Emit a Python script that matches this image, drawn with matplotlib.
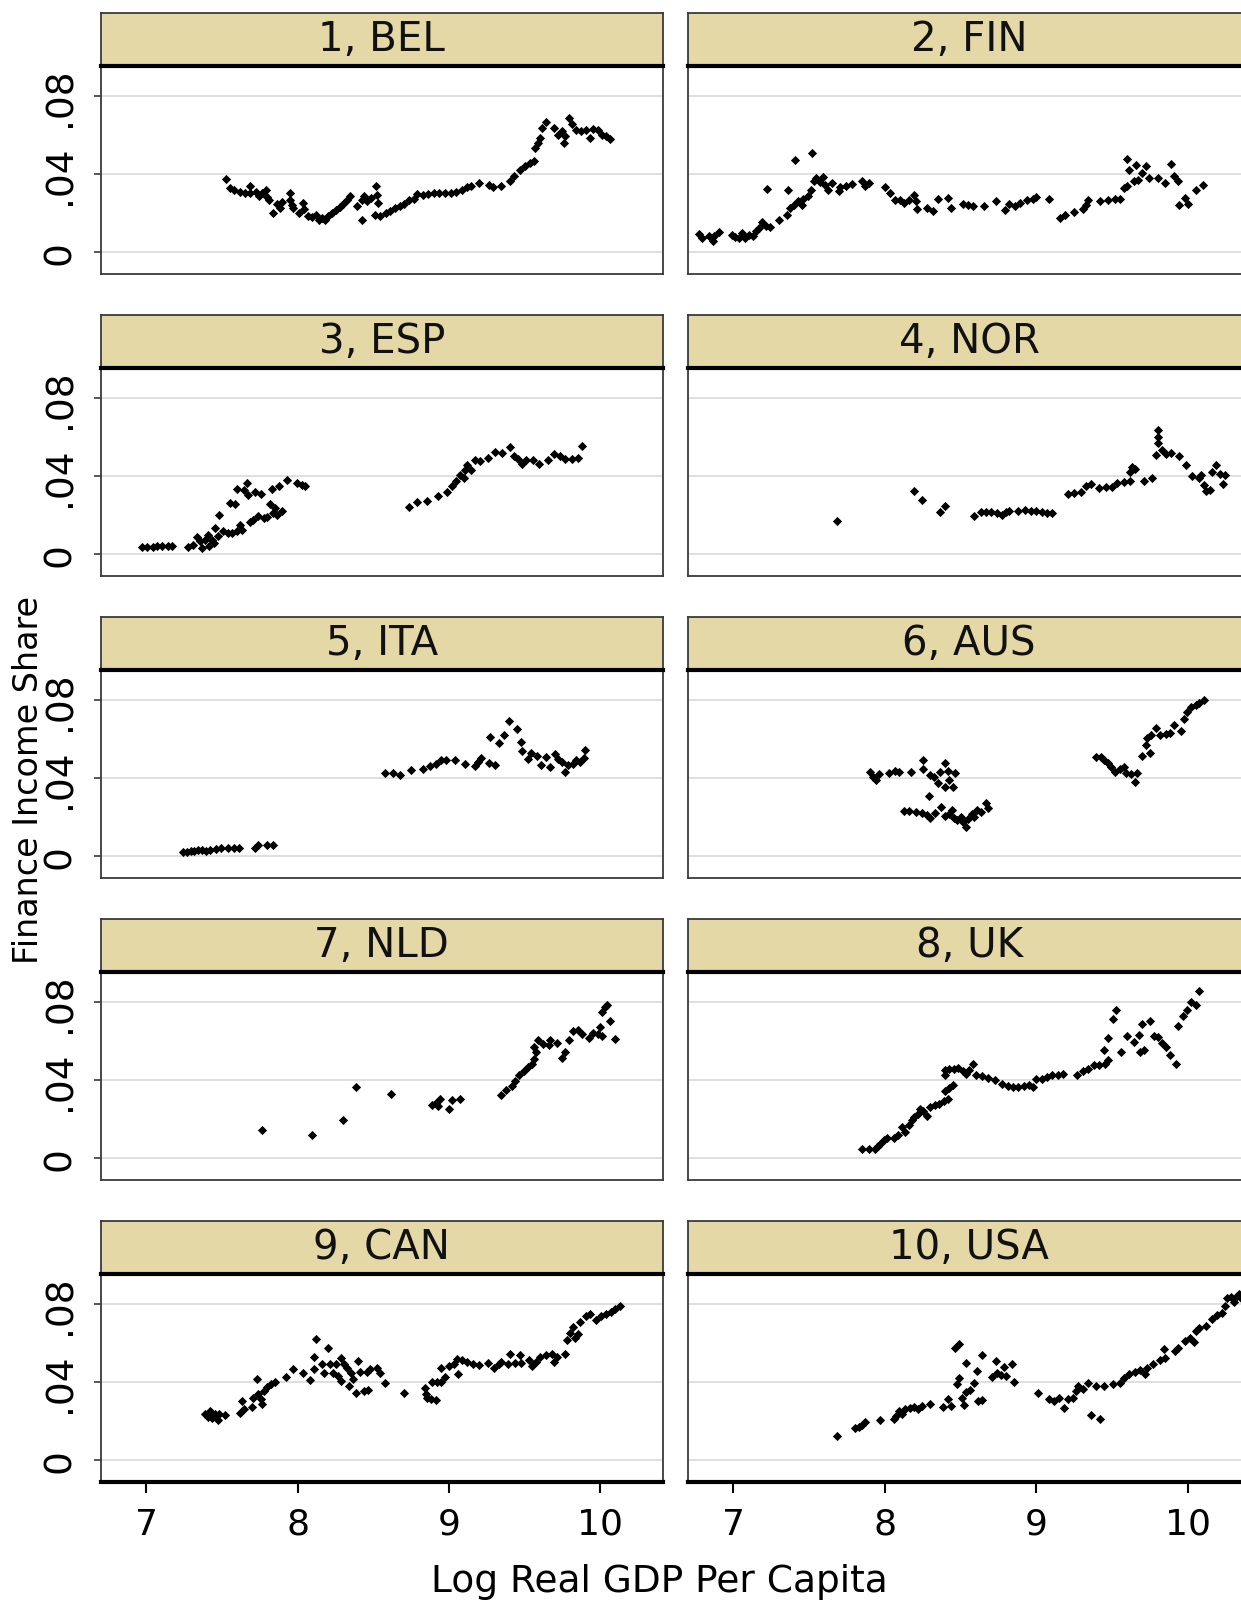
import matplotlib
matplotlib.use("Agg")
import matplotlib.pyplot as plt

# finance income share vs log real GDP per capita, by country
bel_x = [7.525, 7.552, 7.577, 7.618, 7.650, 7.687, 7.684, 7.728, 7.748, 7.765, 7.789, 7.796, 7.814, 7.838,
         7.862, 7.887, 7.899, 7.948, 7.948, 7.960, 7.972, 8.009, 8.033, 8.041, 8.070, 8.095, 8.124, 8.143,
         8.163, 8.180, 8.204, 8.229, 8.253, 8.278, 8.302, 8.327, 8.344, 8.393, 8.424, 8.424, 8.441, 8.461,
         8.485, 8.515, 8.522, 8.529, 8.510, 8.547, 8.583, 8.613, 8.644, 8.676, 8.705, 8.735, 8.766, 8.791,
         8.828, 8.864, 8.901, 8.937, 8.974, 9.011, 9.047, 9.084, 9.121, 9.145, 9.199, 9.262, 9.292, 9.341,
         9.402, 9.426, 9.468, 9.499, 9.536, 9.560, 9.565, 9.585, 9.604, 9.614, 9.638, 9.695, 9.719, 9.743,
         9.756, 9.768, 9.792, 9.810, 9.841, 9.873, 9.902, 9.931, 9.951, 9.981, 10.012, 10.037, 10.061]
bel_y = [.0376, .0328, .0320, .0309, .0303, .0340, .0303, .0309, .0285, .0303, .0316, .0282, .0268, .0198,
         .0244, .0226, .0258, .0303, .0268, .0243, .0226, .0200, .0251, .0221, .0186, .0179, .0191, .0166,
         .0174, .0166, .0186, .0200, .0214, .0231, .0248, .0268, .0285, .0234, .0166, .0268, .0285, .0260,
         .0277, .0337, .0294, .0251, .0191, .0183, .0200, .0209, .0226, .0238, .0248, .0268, .0274, .0299,
         .0294, .0299, .0303, .0303, .0303, .0303, .0306, .0320, .0333, .0340, .0354, .0342, .0333, .0337,
         .0362, .0388, .0419, .0439, .0456, .0467, .0533, .0559, .0585, .0636, .0665, .0636, .0602, .0619,
         .0559, .0593, .0687, .0658, .0627, .0621, .0624, .0585, .0631, .0624, .0602, .0593, .0579]

fin_x = [6.775, 6.792, 6.839, 6.863, 6.870, 6.905, 6.988, 7.012, 7.035, 7.059, 7.076, 7.106, 7.130, 7.147,
         7.166, 7.189, 7.213, 7.241, 7.220, 7.303, 7.355, 7.360, 7.374, 7.397, 7.407, 7.426, 7.454, 7.461,
         7.492, 7.509, 7.518, 7.532, 7.544, 7.573, 7.591, 7.603, 7.627, 7.651, 7.698, 7.705, 7.745, 7.781,
         7.852, 7.871, 7.894, 7.998, 8.036, 8.069, 8.100, 8.124, 8.159, 8.195, 8.207, 8.211, 8.278, 8.320,
         8.353, 8.419, 8.438, 8.514, 8.550, 8.585, 8.656, 8.732, 8.793, 8.822, 8.857, 8.893, 8.940, 8.975,
         8.999, 9.082, 9.158, 9.188, 9.247, 9.307, 9.330, 9.342, 9.418, 9.472, 9.520, 9.555, 9.579, 9.598,
         9.602, 9.614, 9.644, 9.661, 9.673, 9.697, 9.725, 9.744, 9.803, 9.851, 9.891, 9.910, 9.933, 9.945,
         9.981, 10.004, 10.052, 10.099]
fin_y = [.0092, .0072, .0084, .0055, .0080, .0101, .0089, .0077, .0070, .0097, .0072, .0089, .0084, .0106,
         .0123, .0152, .0132, .0128, .0323, .0162, .0191, .0316, .0226, .0243, .0474, .0260, .0243, .0272,
         .0289, .0320, .0508, .0362, .0379, .0357, .0385, .0345, .0316, .0354, .0311, .0333, .0340, .0349,
         .0362, .0340, .0354, .0332, .0303, .0268, .0265, .0251, .0268, .0294, .0260, .0221, .0226, .0209,
         .0272, .0277, .0226, .0248, .0243, .0238, .0234, .0260, .0214, .0248, .0234, .0251, .0265, .0272,
         .0280, .0272, .0174, .0191, .0205, .0221, .0243, .0265, .0263, .0265, .0272, .0272, .0328, .0340,
         .0479, .0422, .0362, .0448, .0371, .0405, .0443, .0379, .0379, .0354, .0450, .0388, .0362, .0243,
         .0277, .0248, .0316, .0345]

esp_x = [6.971, 7.007, 7.044, 7.073, 7.105, 7.142, 7.171, 7.276, 7.308, 7.337, 7.357, 7.366, 7.386, 7.406,
         7.415, 7.435, 7.447, 7.454, 7.472, 7.484, 7.508, 7.538, 7.552, 7.569, 7.586, 7.601, 7.618, 7.601,
         7.630, 7.643, 7.667, 7.674, 7.684, 7.704, 7.716, 7.740, 7.757, 7.777, 7.801, 7.821, 7.831, 7.838,
         7.850, 7.862, 7.875, 7.899, 7.928, 7.997, 8.026, 8.046,
         8.735, 8.791, 8.852, 8.925, 8.986, 9.018, 9.047, 9.072, 9.096, 9.108, 9.121, 9.145, 9.170, 9.206,
         9.255, 9.304, 9.353, 9.402, 9.426, 9.458, 9.482, 9.511, 9.556, 9.597, 9.653, 9.695, 9.731, 9.768,
         9.810, 9.849, 9.878]
esp_y = [.0036, .0036, .0036, .0039, .0039, .0039, .0039, .0036, .0048, .0087, .0065, .0031, .0073, .0099,
         .0043, .0070, .0056, .0133, .0091, .0202, .0116, .0108, .0262, .0108, .0258, .0116, .0150, .0333,
         .0125, .0330, .0364, .0304, .0162, .0176, .0316, .0193, .0309, .0185, .0190, .0258, .0333, .0210,
         .0236, .0202, .0347, .0219, .0378, .0364, .0356, .0350,
         .0241, .0265, .0270, .0296, .0316, .0347, .0373, .0407, .0390, .0429, .0458, .0432, .0484, .0475,
         .0492, .0521, .0518, .0549, .0501, .0487, .0463, .0484, .0484, .0463, .0484, .0515, .0501, .0487,
         .0487, .0492, .0556]

nor_x = [7.681, 8.195, 8.242, 8.367, 8.396, 8.590, 8.632, 8.668, 8.703, 8.739, 8.774, 8.798, 8.822, 8.881,
         8.928, 8.964, 8.999, 9.035, 9.070, 9.101, 9.212, 9.247, 9.295, 9.330, 9.361, 9.413, 9.460, 9.503,
         9.531, 9.579, 9.621, 9.621, 9.631, 9.654, 9.709, 9.763, 9.792, 9.803, 9.803, 9.803, 9.827, 9.858,
         9.891, 9.945, 9.986, 10.028, 10.071, 10.087, 10.104, 10.123, 10.146, 10.158, 10.189, 10.213,
         10.236, 10.246]
nor_y = [.0168, .0321, .0279, .0214, .0248, .0197, .0214, .0214, .0214, .0210, .0202, .0214, .0219, .0219,
         .0227, .0219, .0219, .0214, .0210, .0210, .0309, .0313, .0316, .0347, .0361, .0338, .0342, .0344,
         .0364, .0368, .0373, .0419, .0446, .0436, .0373, .0390, .0509, .0634, .0600, .0569, .0535, .0515,
         .0518, .0501, .0458, .0398, .0390, .0407, .0356, .0321, .0326, .0419, .0458, .0412, .0361, .0407]

ita_x = [7.244, 7.269, 7.293, 7.318, 7.342, 7.366, 7.398, 7.423, 7.459, 7.496, 7.538, 7.577, 7.611, 7.716,
         7.740, 7.796, 7.838,
         8.578, 8.632, 8.676, 8.749, 8.827, 8.876, 8.913, 8.945, 8.979, 9.042, 9.108, 9.174, 9.189, 9.213,
         9.262, 9.304, 9.272, 9.328, 9.360, 9.394, 9.446, 9.475, 9.482, 9.524, 9.541, 9.580, 9.609, 9.639,
         9.670, 9.702, 9.719, 9.744, 9.768, 9.785, 9.817, 9.841, 9.866, 9.898, 9.890]
ita_y = [.0022, .0022, .0024, .0026, .0031, .0031, .0027, .0031, .0034, .0039, .0039, .0039, .0039, .0043,
         .0056, .0056, .0056,
         .0424, .0424, .0415, .0441, .0444, .0462, .0472, .0492, .0492, .0492, .0470, .0462, .0484, .0504,
         .0475, .0467, .0612, .0581, .0620, .0694, .0650, .0586, .0540, .0496, .0530, .0513, .0467, .0509,
         .0455, .0523, .0496, .0484, .0432, .0467, .0472, .0492, .0484, .0544, .0501]

aus_x = [7.904, 7.923, 7.942, 7.958, 8.029, 8.065, 8.093, 8.171, 8.249, 8.254, 8.301, 8.327, 8.348, 8.367,
         8.395, 8.400, 8.414, 8.424, 8.447, 8.462, 8.289,
         8.124, 8.159, 8.207, 8.242, 8.277, 8.301, 8.329, 8.372, 8.395, 8.424, 8.443, 8.454, 8.478, 8.502,
         8.514, 8.538, 8.549, 8.573, 8.590, 8.609, 8.632, 8.668, 8.680,
         9.394, 9.425, 9.449, 9.472, 9.496, 9.520, 9.550, 9.579, 9.591, 9.626, 9.650, 9.668, 9.697, 9.749,
         9.725, 9.732, 9.756, 9.792, 9.820, 9.858, 9.882, 9.910, 9.953, 9.976, 9.993, 10.023, 10.052,
         10.075, 10.104]
aus_y = [.0432, .0407, .0390, .0421, .0427, .0438, .0432, .0432, .0492, .0444, .0415, .0407, .0373, .0432,
         .0475, .0356, .0438, .0390, .0352, .0424, .0308,
         .0232, .0232, .0227, .0222, .0210, .0193, .0219, .0253, .0205, .0215, .0236, .0193, .0185, .0198,
         .0176, .0150, .0188, .0215, .0202, .0236, .0227, .0270, .0244,
         .0509, .0509, .0492, .0479, .0458, .0432, .0444, .0458, .0424, .0421, .0381, .0427, .0513, .0530,
         .0569, .0603, .0620, .0655, .0620, .0626, .0632, .0672, .0643, .0701, .0740, .0762, .0774,
         .0786, .0803]

nld_x = [7.765, 8.095, 8.302, 8.383, 8.620, 8.889, 8.913, 8.938, 8.925, 9.003, 9.023, 9.072, 9.341, 9.377,
         9.414, 9.438, 9.463, 9.492, 9.524, 9.548, 9.560, 9.572, 9.560, 9.585, 9.621, 9.658, 9.670, 9.712,
         9.743, 9.768, 9.792, 9.817, 9.853, 9.878, 9.922, 9.951, 9.981, 10.000, 10.012, 10.029, 10.044,
         10.061, 10.093, 10.012]
nld_y = [.0142, .0120, .0193, .0364, .0330, .0274, .0284, .0301, .0267, .0253, .0296, .0301, .0325, .0347,
         .0369, .0393, .0424, .0444, .0467, .0484, .0509, .0544, .0569, .0603, .0586, .0581, .0603, .0591,
         .0513, .0544, .0603, .0650, .0655, .0638, .0615, .0643, .0638, .0672, .0749, .0774, .0786,
         .0701, .0612, .0626]

uk_x = [7.852, 7.895, 7.936, 7.953, 7.970, 7.994, 8.013, 8.060, 8.088, 8.112, 8.131, 8.159, 8.178, 8.195,
        8.218, 8.235, 8.254, 8.278, 8.301, 8.330, 8.360, 8.391, 8.415, 8.396, 8.424, 8.447, 8.400, 8.396,
        8.424, 8.455, 8.485, 8.514, 8.538, 8.557, 8.580, 8.604, 8.644, 8.684, 8.727, 8.774, 8.810, 8.845,
        8.881, 8.916, 8.952, 8.975, 8.999, 9.035, 9.070, 9.106, 9.141, 9.177, 9.271, 9.307, 9.342, 9.378,
        9.413, 9.456, 9.472, 9.449, 9.472, 9.508, 9.527, 9.560, 9.602, 9.645, 9.678, 9.685, 9.709, 9.701,
        9.749, 9.779, 9.803, 9.827, 9.858, 9.882, 9.922, 9.938, 9.969, 9.993, 10.023, 10.052, 10.071]
uk_y = [.0044, .0048, .0044, .0062, .0074, .0091, .0103, .0103, .0120, .0159, .0133, .0168, .0193, .0210,
        .0227, .0253, .0239, .0215, .0262, .0270, .0279, .0291, .0304, .0342, .0359, .0376, .0424, .0450,
        .0458, .0455, .0462, .0444, .0432, .0450, .0484, .0424, .0421, .0410, .0398, .0381, .0369, .0364,
        .0364, .0369, .0376, .0364, .0407, .0407, .0415, .0424, .0427, .0432, .0427, .0444, .0458, .0475,
        .0475, .0484, .0501, .0552, .0615, .0715, .0757, .0544, .0626, .0595, .0629, .0544, .0552, .0689,
        .0701, .0626, .0621, .0591, .0569, .0530, .0484, .0677, .0728, .0757, .0803, .0786, .0855]

can_x = [7.386, 7.406, 7.423, 7.435, 7.454, 7.472, 7.484, 7.520, 7.618, 7.630, 7.643, 7.699, 7.704, 7.733,
         7.740, 7.757, 7.765, 7.777, 7.801, 7.826, 7.850, 7.924, 7.968, 8.033, 8.082, 8.107, 8.107, 8.119,
         8.163, 8.173, 8.204, 8.216, 8.236, 8.253, 8.270, 8.290, 8.290, 8.309, 8.326, 8.339, 8.351, 8.368,
         8.383, 8.400, 8.412, 8.437, 8.456, 8.466, 8.481, 8.522, 8.546, 8.578, 8.700, 8.840, 8.847, 8.857,
         8.881, 8.913, 8.889, 8.921, 8.950, 8.945, 8.974, 9.003, 9.035, 9.052, 9.059, 9.084, 9.121, 9.157,
         9.199, 9.255, 9.296, 9.328, 9.345, 9.389, 9.401, 9.438, 9.468, 9.475, 9.531, 9.548, 9.572, 9.604,
         9.639, 9.678, 9.695, 9.712, 9.768, 9.780, 9.800, 9.817, 9.834, 9.853, 9.866, 9.902, 9.932, 9.971,
         10.005, 10.037, 10.069, 10.098, 10.127]
can_y = [.0234, .0221, .0251, .0217, .0234, .0203, .0234, .0231, .0243, .0303, .0260, .0272, .0320, .0414,
         .0337, .0311, .0285, .0354, .0374, .0388, .0402, .0426, .0465, .0448, .0409, .0465, .0528, .0619,
         .0491, .0448, .0576, .0494, .0448, .0491, .0431, .0521, .0405, .0491, .0474, .0379, .0448, .0414,
         .0345, .0508, .0453, .0354, .0453, .0357, .0465, .0470, .0448, .0397, .0345, .0371, .0337, .0320,
         .0311, .0306, .0402, .0402, .0402, .0470, .0426, .0482, .0494, .0516, .0443, .0511, .0504, .0494,
         .0487, .0499, .0474, .0494, .0504, .0491, .0542, .0499, .0538, .0499, .0511, .0482, .0504, .0528,
         .0538, .0545, .0504, .0528, .0542, .0614, .0653, .0682, .0627, .0648, .0709, .0738, .0747, .0716,
         .0738, .0747, .0761, .0773, .0790]

usa_x = [7.681, 7.804, 7.828, 7.852, 7.871, 7.970, 8.060, 8.076, 8.093, 8.112, 8.136, 8.164, 8.195, 8.219,
         8.242, 8.301, 8.384, 8.415, 8.438, 8.462, 8.490, 8.478, 8.490, 8.509, 8.525, 8.538, 8.538, 8.561,
         8.591, 8.609, 8.613, 8.644, 8.644, 8.708, 8.732, 8.739, 8.770, 8.786, 8.798, 8.841, 8.851, 9.011,
         9.082, 9.118, 9.153, 9.182, 9.212, 9.243, 9.259, 9.276, 9.307, 9.338, 9.361, 9.418, 9.394, 9.449,
         9.508, 9.555, 9.579, 9.614, 9.650, 9.685, 9.716, 9.732, 9.773, 9.815, 9.844, 9.851, 9.915, 9.938,
         9.981, 10.016, 10.040, 10.052, 10.075, 10.118, 10.158, 10.194, 10.229, 10.246, 10.260, 10.288,
         10.307, 10.324, 10.341, 10.355]
usa_y = [.0123, .0162, .0169, .0179, .0197, .0205, .0209, .0226, .0251, .0234, .0260, .0268, .0272, .0260,
         .0277, .0285, .0272, .0311, .0277, .0573, .0597, .0391, .0419, .0316, .0282, .0499, .0350, .0357,
         .0397, .0456, .0303, .0306, .0538, .0426, .0508, .0448, .0436, .0477, .0431, .0494, .0402, .0345,
         .0311, .0303, .0320, .0268, .0311, .0320, .0354, .0379, .0362, .0397, .0231, .0209, .0379, .0379,
         .0391, .0397, .0422, .0443, .0453, .0460, .0439, .0470, .0491, .0511, .0568, .0525, .0559, .0576,
         .0610, .0627, .0607, .0662, .0679, .0687, .0721, .0744, .0756, .0790, .0832, .0836,
         .0812, .0841, .0853, .0824]

panel_titles = ["1, BEL", "2, FIN", "3, ESP", "4, NOR", "5, ITA",
                "6, AUS", "7, NLD", "8, UK", "9, CAN", "10, USA"]
panel_data = [(bel_x, bel_y), (fin_x, fin_y), (esp_x, esp_y), (nor_x, nor_y), (ita_x, ita_y),
              (aus_x, aus_y), (nld_x, nld_y), (uk_x, uk_y), (can_x, can_y), (usa_x, usa_y)]
x_ticks = [7, 8, 9, 10]
y_ticks = [0, 0.04, 0.08]
y_tick_labels = ["0", ".04", ".08"]

plt.rcParams['font.family'] = ['DejaVu Sans']

W, H = 1241, 1606
fig = plt.figure(figsize=(W / 100, H / 100), dpi=100)

header_color = "#E4D8A6"
edge_color = "#3A3A3A"
col_left = [100.7, 688.0]
panel_w = 562.3

for i, (title, (xs, ys)) in enumerate(zip(panel_titles, panel_data)):
    row, col = divmod(i, 2)
    head_top = 14 + 302 * row
    head_bot = 66.5 + 302 * row
    plot_bot = 275 + 302 * row
    x0 = col_left[col]

    # plot region
    ax = fig.add_axes([x0 / W, 1 - plot_bot / H, panel_w / W, (plot_bot - head_bot) / H])
    ax.scatter(xs, ys, s=22, marker="D", color="black", linewidths=0, zorder=3)
    ax.set_xlim(6.70, 10.413)
    ax.set_ylim(-0.0113, 0.0957)
    for g in y_ticks:
        ax.axhline(g, color="#DCDCDC", lw=1.3, zorder=1)
    for sp in ax.spines.values():
        sp.set_color(edge_color)
        sp.set_linewidth(1.3)

    ax.set_yticks(y_ticks)
    if col == 0:
        ax.set_yticklabels(y_tick_labels, rotation=90, va="center", ha="center")
        ax.tick_params(axis="y", length=5, width=1.2, color=edge_color, labelsize=27, pad=24)
    else:
        ax.tick_params(axis="y", length=0, labelleft=False)

    ax.set_xticks(x_ticks)
    if row == 4:
        ax.set_xticklabels([str(t) for t in x_ticks])
        ax.tick_params(axis="x", length=8, width=1.5, color="black", labelsize=26, pad=10)
        ax.spines["bottom"].set_linewidth(3)
        ax.spines["bottom"].set_color("black")
    else:
        ax.tick_params(axis="x", length=0, labelbottom=False)

    # strip header
    hx = fig.add_axes([x0 / W, 1 - head_bot / H, panel_w / W, (head_bot - head_top) / H])
    hx.set_facecolor(header_color)
    hx.set_xticks([])
    hx.set_yticks([])
    for sp in hx.spines.values():
        sp.set_color(edge_color)
        sp.set_linewidth(1.3)
    hx.spines["bottom"].set_color("black")
    hx.spines["bottom"].set_linewidth(3)
    hx.text(0.5, 0.5, title, transform=hx.transAxes, ha="center", va="center",
            fontsize=29, color="#111111")

fig.text(29 / W, 1 - 780 / H, "Finance Income Share", rotation=90, ha="center", va="center",
         fontsize=24)
fig.text(659 / W, 1 - 1582 / H, "Log Real GDP Per Capita", ha="center", va="center", fontsize=27)

fig.savefig("out.png", dpi=100)
